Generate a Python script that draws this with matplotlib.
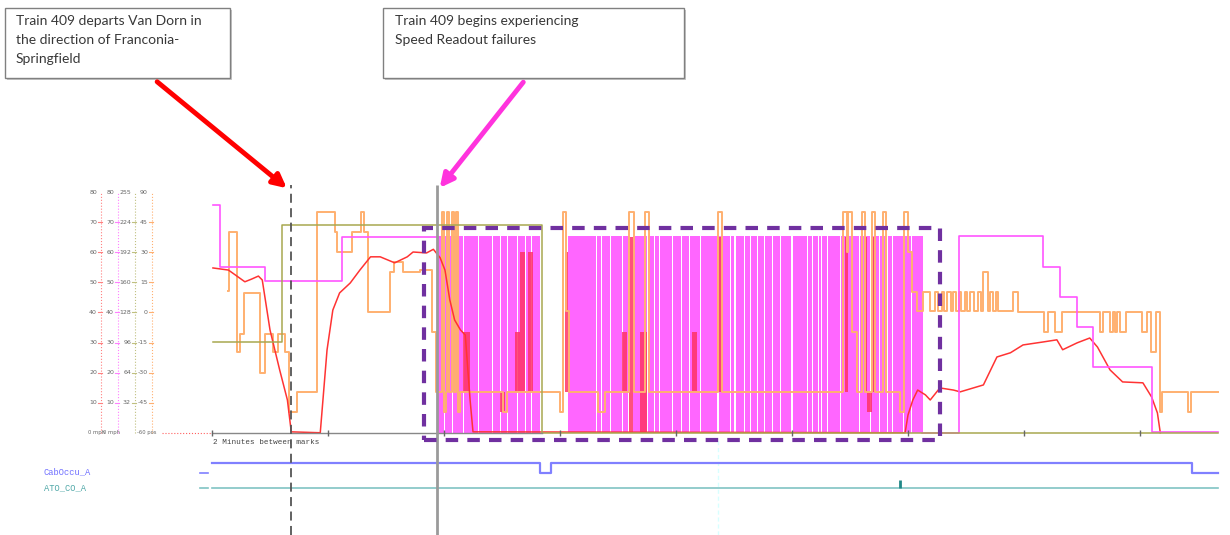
import matplotlib
matplotlib.use('Agg')
import matplotlib.pyplot as plt
import matplotlib.transforms as mtransforms
from matplotlib.patches import Rectangle, FancyArrowPatch

# ---- data (time in seconds from start of trace, values on the 0-80 display scale) ----
speed_t = [1, 17, 24, 34, 41, 48, 52, 60, 70, 78, 82, 112, 119, 125, 132, 143, 153, 164, 174,
           189, 202, 208, 222, 229, 236, 241, 246, 251, 257, 262, 267, 270, 717, 720, 725, 730,
           738, 743, 753, 767, 774, 798, 812, 826, 839, 860, 874, 880, 895, 908, 916, 929, 942,
           963, 972, 978, 981]
speed_v = [54.8, 54.1, 52.5, 50.2, 51.1, 52.1, 50.8, 34.2, 20.9, 10.9, 0.3, 0.0, 27.5, 40.8,
           46.5, 49.8, 54.1, 58.5, 58.5, 56.5, 58.5, 60.1, 59.8, 61.0, 58.2, 54.1, 44.2, 37.5,
           34.2, 32.5, 10.9, 0.3, 0.0, 5.9, 10.9, 14.2, 12.6, 10.9, 14.9, 14.2, 13.6, 15.9, 25.2,
           26.6, 29.2, 30.2, 30.9, 27.6, 29.9, 31.5, 28.5, 20.9, 16.9, 16.6, 11.9, 6.6, 0.0]

limit_t = [1, 8, 55, 134, 236, 236, 734, 773, 860, 877, 895, 911, 972, 1041]
limit_v = [75.8, 55.1, 50.5, 65.1, 65.1, float('nan'), 0.0, 65.4, 55.1, 45.2, 35.2, 21.9, 0.3, 0.3]

olive_t = [1, 72, 341, 1041]
olive_v = [30.2, 69.1, 0.0, 0.0]

orange_t = [17, 18, 26, 29, 33, 50, 55, 63, 68, 76, 80, 88, 109, 127, 129, 145, 154, 157, 161,
            184, 188, 198, 215, 228, 232, 238, 240, 242, 243, 245, 248, 250, 252, 254, 257, 301,
            305, 360, 363, 366, 369, 399, 407, 431, 437, 448, 452, 523, 528, 653, 657, 658, 662,
            667, 672, 676, 683, 686, 694, 697, 712, 716, 720, 724, 729, 736, 743, 748, 751, 755,
            757, 760, 764, 767, 770, 773, 775, 779, 781, 784, 788, 792, 795, 798, 803, 805, 808,
            811, 813, 829, 834, 861, 865, 872, 879, 919, 922, 929, 932, 934, 936, 939, 945, 962,
            967, 971, 977, 981, 983, 1010, 1013, 1041]
orange_v = [47.0, 66.7, 26.8, 33.0, 46.5, 19.9, 33.0, 26.8, 33.0, 26.8, 6.9, 13.6, 73.4, 66.7,
            60.0, 66.7, 73.4, 66.7, 40.0, 53.4, 56.8, 53.4, 54.0, 33.5, 13.6, 73.4, 6.9, 13.6,
            73.4, 13.6, 73.4, 13.6, 73.4, 6.9, 13.6, 6.9, 13.6, 6.9, 73.4, 40.6, 13.6, 6.9, 13.6,
            73.4, 13.6, 73.4, 13.6, 73.4, 13.6, 73.4, 60.0, 73.4, 33.5, 13.6, 73.4, 13.6, 73.4,
            13.6, 73.4, 13.6, 6.9, 73.4, 60.0, 46.8, 40.6, 46.8, 40.6, 46.8, 40.6, 46.8, 40.6,
            46.8, 40.6, 46.8, 40.6, 46.8, 40.6, 46.8, 40.6, 46.8, 40.6, 46.8, 40.6, 53.4, 40.6,
            46.8, 40.6, 46.8, 40.6, 46.8, 40.0, 33.5, 40.0, 33.5, 40.0, 33.5, 40.0, 33.5, 40.0,
            33.5, 40.0, 33.5, 40.0, 33.5, 40.0, 26.9, 40.0, 6.9, 13.6, 6.9, 13.6, 13.6]

# speed readout failure bursts (magenta) and the gaps between them
fail_regions = [(234, 339), (368, 735)]
fail_top = 65.4
fail_gaps = [(240.5, 241.5), (248.5, 249.5), (259.5, 260.5), (275.5, 276.5), (289.5, 290.5),
             (297.5, 298.5), (305.5, 306.5), (315.5, 316.5), (323.5, 324.5), (330.5, 331.5),
             (397.5, 398.5), (402.5, 403.5), (411.5, 412.5), (424.5, 425.5), (430, 436),
             (450.5, 451.5), (457.5, 458.5), (462.5, 463.5), (475.5, 476.5), (485.5, 486.5),
             (493.5, 494.5), (504.5, 505.5), (509.5, 510.5), (522, 525), (535.5, 536.5),
             (540, 542.5), (550.5, 551.5), (556.5, 557.5), (563.5, 564.5), (571.5, 572.5),
             (579.5, 580.5), (587.5, 588.5), (599, 601.5), (615.5, 616.5), (620.5, 621.5),
             (626.5, 627.5), (630.5, 631.5), (636.5, 637.5), (649.5, 650.5), (659.5, 660.5),
             (669.5, 670.5), (680.5, 681.5), (690.5, 691.5), (698.5, 699.5), (703.5, 704.5),
             (714.5, 715.5), (723.5, 724.5)]

# spurious speed readings during failures: (start, end, low, high)
spikes = [(260, 267, 13.6, 33.5), (298, 303, 6.9, 13.6), (313, 319, 13.6, 33.5),
          (319, 324, 13.6, 60.0), (327, 332, 13.6, 60.0), (365, 368, 13.6, 60.0),
          (424, 429, 13.6, 33.5), (431, 436, 0.0, 65.0), (443, 450, 0.0, 33.5),
          (497, 502, 13.6, 33.5), (523, 528, 13.6, 65.0), (655, 658, 13.6, 65.0),
          (675, 678, 13.6, 65.0), (678, 683, 6.9, 13.6), (684, 686, 13.6, 65.0)]

cab_t = [0, 339, 351, 1014, 1041]
cab_v = [1, 0, 1, 0, 0]
ato_t = [0, 1041]
ato_v = [0, 0]
ato_pulse_t = 712

tick_t = [0, 120, 240, 360, 480, 600, 720, 840, 960]
depart_t = 82
fail_t = 233
marker_t = 523
window_t = (219, 753)
window_v = (-2.4, 68.1)

red_ticks = ['10', '20', '30', '40', '50', '60', '70']
mag_ticks = ['10', '20', '30', '40', '50', '60', '70']
olive_ticks = ['32', '64', '96', '128', '160', '192', '224']
orange_ticks = ['-45', '-30', '-15', '0', '15', '30', '45']
tick_vals = [10, 20, 30, 40, 50, 60, 70]

note1 = 'Train 409 departs Van Dorn in\nthe direction of Franconia-\nSpringfield'
note2 = 'Train 409 begins experiencing\nSpeed Readout failures'

# ---- figure ----
W, H = 1230, 535
fig = plt.figure(figsize=(12.3, 5.35), dpi=100)
ax = fig.add_axes([0, 0, 1, 1])
ax.set_xlim(-219.3, 1053.1)
ax.set_ylim(-34.0, 143.9)
ax.axis('off')


def fx(px):
    return px / W


def fy(py):
    return 1 - py / H


# failure bars
for a, b in fail_regions:
    cur = a
    segs = []
    for g0, g1 in fail_gaps:
        if a <= g0 < b:
            segs.append((cur, g0 - cur))
            cur = g1
    segs.append((cur, b - cur))
    ax.broken_barh(segs, (0, fail_top), facecolors='#ff66ff', zorder=1)

for t0, t1, lo, hi in spikes:
    ax.bar(t0, hi - lo, width=t1 - t0, bottom=lo, align='edge', color='#ff3366',
           alpha=0.85, zorder=2)

ax.step(orange_t, orange_v, where='post', color='#ffb070', lw=1.4, zorder=3)
ax.plot(speed_t, speed_v, color='#ff3333', lw=1.1, zorder=4)
ax.step(limit_t, limit_v, where='post', color='#ff55ff', lw=1.2, zorder=4)
ax.step(olive_t, olive_v, where='post', color='#a8a850', lw=1.1, zorder=5)

# baseline and time ticks
ax.plot([0, olive_t[2]], [0, 0], color='#888888', lw=1, zorder=5)
ax.plot(tick_t, [0] * len(tick_t), '|', ms=4, color='#666666', zorder=6)
ax.text(1, -2.0, '2 Minutes between marks', family='Liberation Mono', fontsize=5.5,
        color='#444444', va='top', ha='left')

# event lines
ax.vlines(depart_t, -34, 82.5, colors='#555555', linestyles=(0, (5, 3)), lw=1.3, zorder=7)
ax.vlines(fail_t, -34, 82.5, colors='#9a9a9a', lw=2, zorder=7)
ax.vlines(marker_t, -34, -2.5, colors='#d8ffff', linestyles=(0, (3, 2)), lw=1, zorder=1)

# highlighted window
ax.add_patch(Rectangle((window_t[0], window_v[0]), window_t[1] - window_t[0],
                       window_v[1] - window_v[0], fill=False, edgecolor='#7030a0',
                       lw=3, linestyle=(0, (3, 2.2)), zorder=8))

# digital channels
cab_y = [-13.4 + 3.3 * v for v in cab_v]
ato_y = [-18.4 + 2.6 * v for v in ato_v]
ax.step(cab_t, cab_y, where='post', color='#8080ff', lw=1.6)
ax.step(ato_t, ato_y, where='post', color='#80c4c4', lw=1.2)
ax.vlines(ato_pulse_t, -18.4, -15.8, colors='#208888', lw=2)
ax.plot([-12, -4], [-13.4, -13.4], color='#8080ff', lw=1.2)
ax.plot([-12, -4], [-18.4, -18.4], color='#80c4c4', lw=1.2)
ax.text(-174, -13.0, 'CabOccu_A', family='Liberation Mono', fontsize=6.3, color='#7070ff',
        va='center', ha='left')
ax.text(-174, -18.4, 'ATO_CO_A', family='Liberation Mono', fontsize=6.3, color='#50a8a8',
        va='center', ha='left')

# left scales
tr = mtransforms.blended_transform_factory(fig.transFigure, ax.transData)
scales = [(101, '#ff8080', red_ticks, '80'),
          (118, '#ff80ff', mag_ticks, '80'),
          (135, '#c0c080', olive_ticks, '255'),
          (152, '#ffb070', orange_ticks, '90')]
for xpx, col, labels, top in scales:
    ax.plot([fx(xpx), fx(xpx)], [0, 80], transform=tr, color=col, lw=0.8, ls=':')
    for v, lab in zip(tick_vals, labels):
        ax.plot([fx(xpx - 3), fx(xpx + 1)], [v, v], transform=tr, color=col, lw=0.8)
        ax.text(fx(xpx - 4), v, lab, transform=tr, fontsize=4.5, color='#666666',
                ha='right', va='center')
    ax.text(fx(xpx - 4), 80, top, transform=tr, fontsize=4.5, color='#666666',
            ha='right', va='center')
for xpx, lab in [(88, '0 mph'), (103, '0 mph'), (137, '-60 pos')]:
    ax.text(fx(xpx), 0, lab, transform=tr, fontsize=3.8, color='#666666',
            ha='left', va='center')
ax.plot([fx(162), fx(212)], [0, 0], transform=tr, color='#ff6060', lw=0.8, ls=':')

# callouts
for (x0, x1), txt, (tx, ty) in [((5, 230), note1, (16, 15)), ((383, 684), note2, (395, 15))]:
    fig.add_artist(Rectangle((fx(x0 + 2), fy(80)), (x1 - x0) / W, 70 / H,
                             transform=fig.transFigure, facecolor='#c8c8c8', edgecolor='none'))
    fig.add_artist(Rectangle((fx(x0), fy(78)), (x1 - x0) / W, 70 / H,
                             transform=fig.transFigure, facecolor='white', edgecolor='#808080',
                             lw=1))
    fig.text(fx(tx), fy(ty), txt, family='Lato', fontsize=10, color='#383838',
             va='top', ha='left', linespacing=1.7)

fig.add_artist(FancyArrowPatch((fx(155), fy(80)), (fx(289), fy(190)),
                               transform=fig.transFigure, arrowstyle='-|>',
                               mutation_scale=20, lw=3.5, color='#ff0000'))
fig.add_artist(FancyArrowPatch((fx(525), fy(80)), (fx(438), fy(190)),
                               transform=fig.transFigure, arrowstyle='-|>',
                               mutation_scale=20, lw=3.5, color='#ff33dd'))

fig.savefig('out.png', dpi=100)
